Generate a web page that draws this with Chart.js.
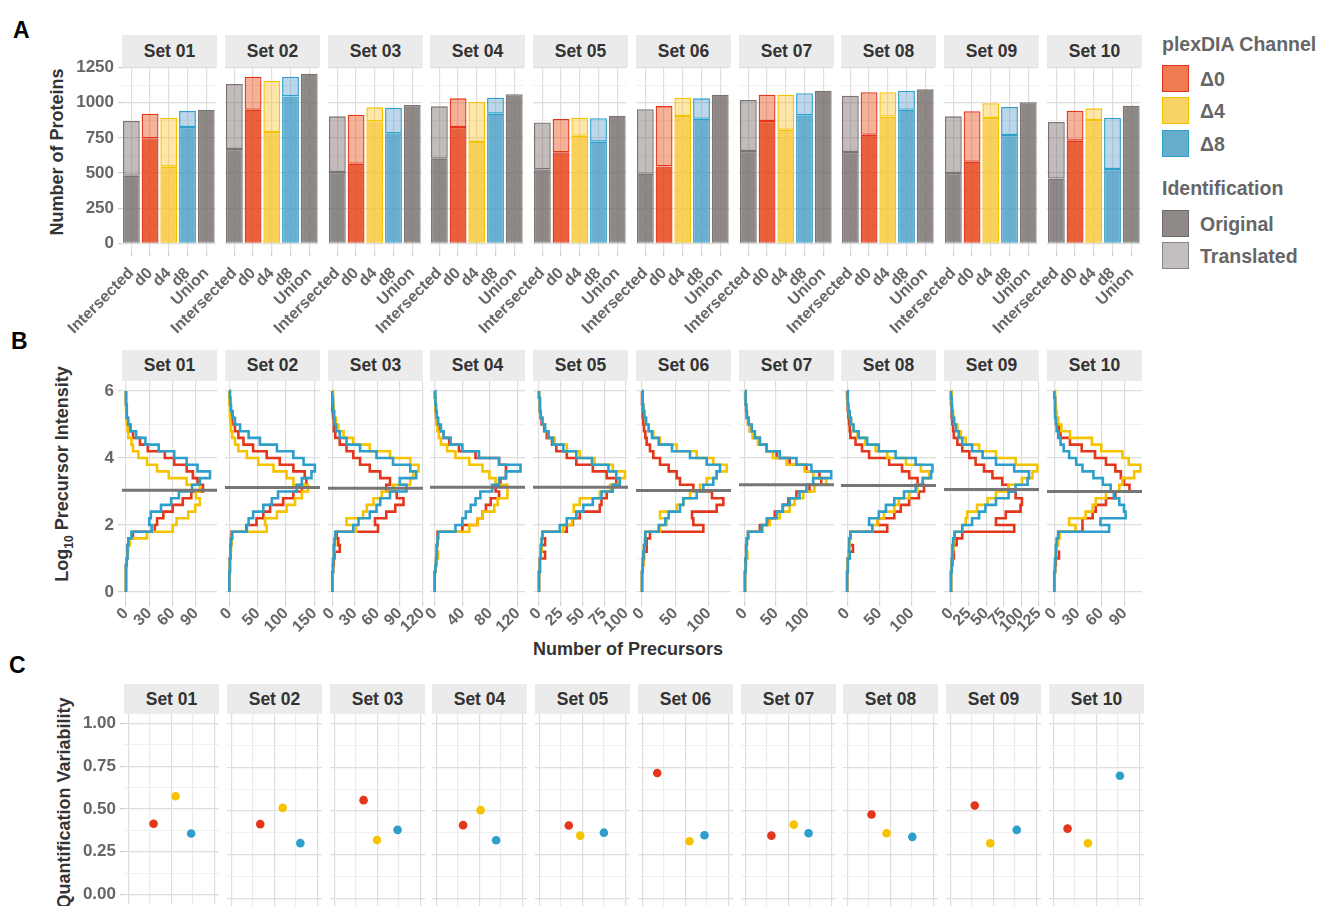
<!DOCTYPE html>
<html>
<head>
<meta charset="utf-8">
<script src="https://cdn.jsdelivr.net/npm/chart.js@4.4.1/dist/chart.umd.min.js"></script>
<style>
  body { margin: 0; background: #fff; }
  #fig { position: relative; width: 1320px; height: 906px; overflow: hidden; font-family: "Liberation Sans", Arial, sans-serif; }
  #fig canvas { position: absolute; }
  .strip { position: absolute; background: #ebebeb; color: #333; font-weight: bold; font-size: 17.5px; text-align: center; }
  .tag { position: absolute; font-weight: bold; font-size: 23px; line-height: 1; color: #000; }
  .title { position: absolute; font-weight: bold; font-size: 18px; color: #333; white-space: nowrap; transform: translate(-50%, -50%); }
  .title.v { transform: translate(-50%, -50%) rotate(-90deg); }
  .lg { position: absolute; left: 1162px; font-weight: bold; color: #666; white-space: nowrap; }
  .lg.head { font-size: 19.5px; height: 24px; line-height: 24px; }
  .lg.key { width: 27px; height: 27px; box-sizing: border-box; border: 1.5px solid; }
  .lg.lab { left: 1200px; font-size: 19.5px; height: 24px; line-height: 24px; }
</style>
</head>
<body>
<div id="fig">
  <div class="tag" style="left:13px;top:19px">A</div>
  <div class="tag" style="left:11px;top:330px">B</div>
  <div class="tag" style="left:9px;top:654px">C</div>

  <div class="title v" style="left:57px;top:152px">Number of Proteins</div>
  <div class="title v" style="left:64px;top:474px">Log<sub style="font-size:12px">10</sub> Precursor Intensity</div>
  <div class="title v" style="left:64px;top:803px">Quantification Variability</div>
  <div class="title" style="left:628px;top:649px">Number of Precursors</div>

  <div class="lg head" style="top:32px">plexDIA Channel</div>
  <div class="lg key" style="top:65px;background:#ee7b52;border-color:#e3341b"></div>
  <div class="lg lab" style="top:67px">Δ0</div>
  <div class="lg key" style="top:97px;background:#f8d264;border-color:#f5c200"></div>
  <div class="lg lab" style="top:99px">Δ4</div>
  <div class="lg key" style="top:130px;background:#66adcd;border-color:#2c9fc9"></div>
  <div class="lg lab" style="top:132px">Δ8</div>
  <div class="lg head" style="top:176px">Identification</div>
  <div class="lg key" style="top:210px;background:#8e8887;border-color:#6f6a69"></div>
  <div class="lg lab" style="top:212px">Original</div>
  <div class="lg key" style="top:242px;background:#c4bfbf;border-color:#8a8585"></div>
  <div class="lg lab" style="top:244px">Translated</div>
</div>
<script>
// ---- data ----
const setNames = ["Set 01", "Set 02", "Set 03", "Set 04", "Set 05", "Set 06", "Set 07", "Set 08", "Set 09", "Set 10"];

// A: protein counts
const barCategories = ["Intersected", "d0", "d4", "d8", "Union"];
const originalProteins = [
    [480, 747, 545, 827, 950],
    [671, 950, 792, 1045, 1206],
    [507, 566, 868, 782, 984],
    [602, 827, 720, 922, 1060],
    [526, 647, 765, 723, 908],
    [495, 547, 905, 886, 1057],
    [656, 870, 808, 910, 1085],
    [649, 772, 901, 950, 1095],
    [500, 580, 891, 770, 1003],
    [460, 730, 877, 528, 979]
];
const translatedProteins = [
    [390, 175, 348, 114, 0],
    [462, 235, 362, 140, 0],
    [396, 349, 99, 183, 0],
    [372, 204, 287, 114, 0],
    [334, 237, 128, 166, 0],
    [458, 429, 131, 145, 0],
    [363, 187, 249, 157, 0],
    [401, 302, 173, 135, 0],
    [403, 359, 105, 199, 0],
    [403, 213, 83, 365, 0]
];

// B: precursor intensity histograms (count per log10 intensity bin)
const intensityBins = [0, 0.2, 0.4, 0.6, 0.8, 1.0, 1.2, 1.4, 1.6, 1.8, 2.0, 2.2, 2.4, 2.6, 2.8, 3.0,
    3.2, 3.4, 3.6, 3.8, 4.0, 4.2, 4.4, 4.6, 4.8, 5.0, 5.2, 5.4, 5.6, 5.8, 6.0];
const d0Precursors = [
    [0,0,0,0,1,2,2,3,9,37,40,48,60,73,84,99,92,86,78,62,50,28,18,9,5,2,1,1,0,0,0],
    [0,0,0,1,1,2,2,3,4,30,48,60,72,95,113,128,136,133,113,89,66,42,25,16,10,5,3,2,1,1,0],
    [0,0,0,1,2,3,10,8,6,61,57,72,84,95,86,72,77,64,50,37,28,19,10,4,2,2,1,0,0,0,0],
    [0,0,0,1,2,3,3,4,4,40,62,69,74,81,93,88,95,103,103,93,59,35,21,13,6,3,2,1,1,0,0],
    [0,0,0,1,1,7,3,7,4,32,39,47,70,72,78,84,89,78,62,43,32,20,15,9,6,3,2,1,1,0,0],
    [0,0,0,1,2,3,7,7,12,92,77,75,112,122,105,77,57,52,40,27,17,12,7,5,3,2,1,1,0,0,0],
    [0,0,0,1,1,2,2,3,5,24,37,48,61,70,83,104,123,120,99,72,51,35,24,13,8,5,3,2,1,1,0],
    [0,0,0,1,1,2,9,4,5,62,47,73,83,96,111,119,109,96,85,65,34,23,13,5,4,3,2,1,1,0,0],
    [0,0,0,1,2,4,3,8,16,90,64,78,99,101,92,82,73,59,47,35,26,16,9,4,3,2,1,1,0,0,0],
    [0,0,0,1,2,6,3,4,5,36,36,49,53,66,78,96,89,85,78,66,52,35,20,8,6,4,2,1,1,0,0]
];
const d4Precursors = [
    [0,0,0,0,1,2,3,5,27,60,65,80,89,95,90,95,78,55,40,27,16,9,7,3,2,1,1,0,0,0,0],
    [0,0,0,1,1,2,3,4,5,66,63,84,101,116,128,139,113,101,78,51,31,16,10,5,3,2,1,1,0,0,0],
    [0,0,0,1,1,2,3,4,4,32,19,41,46,55,66,81,104,108,115,104,77,50,28,15,8,5,3,2,1,1,0],
    [0,0,0,1,2,5,3,4,5,50,62,69,86,91,105,105,88,79,69,50,30,18,9,6,4,3,2,1,1,0,0],
    [0,0,0,1,1,2,3,3,4,28,38,43,40,47,70,82,93,99,85,64,47,32,18,11,7,4,2,1,1,0,0],
    [0,0,0,1,2,2,3,4,5,27,37,27,52,62,72,87,97,112,127,107,82,52,27,17,10,6,4,2,1,1,0],
    [0,0,0,1,2,4,2,3,5,29,40,56,72,80,94,112,131,110,96,67,45,35,21,13,8,5,3,2,1,0,0],
    [0,0,0,1,1,2,3,4,5,39,47,57,73,80,96,109,117,127,114,91,62,44,28,16,9,6,4,2,1,1,0],
    [0,0,0,1,1,2,3,4,5,16,21,23,37,52,64,82,101,116,123,92,64,40,21,14,9,5,3,2,1,1,0],
    [0,0,0,1,1,2,3,5,7,27,19,40,49,53,66,83,87,102,110,95,87,60,48,20,9,5,3,2,1,1,0]
];
const d8Precursors = [
    [0,0,0,0,1,2,2,3,7,33,30,32,45,58,68,85,95,108,92,78,62,42,25,13,6,3,1,1,0,0,0],
    [0,0,0,1,1,2,2,3,5,31,34,42,60,75,86,119,128,145,151,131,113,84,54,34,19,10,6,3,2,1,0],
    [0,0,0,1,1,2,2,3,4,28,35,50,59,64,77,99,90,112,104,81,59,37,19,10,5,3,2,1,1,0,0],
    [0,0,0,1,2,3,3,4,5,30,40,45,52,59,66,83,93,103,124,93,64,40,23,13,9,5,3,2,1,1,0],
    [0,0,0,1,1,2,2,3,4,24,32,43,51,62,72,85,93,89,80,61,43,28,16,11,7,4,2,1,1,0,0],
    [0,0,0,1,1,2,3,5,5,25,35,40,57,62,82,92,107,112,117,97,72,45,25,15,10,6,3,2,1,1,0],
    [0,0,0,1,1,2,2,3,5,27,35,51,61,72,88,99,110,139,107,83,56,35,24,16,11,6,3,2,1,1,0],
    [0,0,0,1,1,4,3,3,5,39,34,49,60,73,88,106,117,130,132,106,75,49,31,18,10,6,4,2,1,1,0],
    [0,0,0,1,1,2,2,3,5,16,30,40,49,64,82,92,109,111,90,64,45,30,16,11,7,4,2,1,1,0,0],
    [0,0,0,1,1,2,2,3,5,70,59,91,89,83,76,72,62,50,36,28,19,12,8,5,3,2,1,1,1,0,0]
];
const precursorStep = [30, 50, 30, 40, 25, 50, 50, 50, 25, 30];
const precursorMin = [-5.1, -7.6, -5.7, -6.8, -6.9, -9, -9.6, -9.5, -10, -9.3];
const precursorMax = [117, 160, 121, 130.5, 102.5, 133.5, 143.5, 137.5, 125.3, 112];
const medianIntensity = [3.04, 3.12, 3.1, 3.13, 3.13, 3.03, 3.2, 3.18, 3.06, 3.0];

// C: quantification variability (x = jittered channel position)
const d0CvX = [2.34, 2.68, 2.71, 2.48, 2.73, 1.38, 2.42, 2.24, 2.26, 1.32];
const d0Cv = [0.413, 0.425, 0.562, 0.419, 0.417, 0.717, 0.359, 0.48, 0.531, 0.399];
const d4CvX = [4.38, 4.76, 3.95, 4.1, 3.79, 4.37, 4.49, 3.64, 3.7, 3.21];
const d4Cv = [0.574, 0.518, 0.334, 0.505, 0.359, 0.327, 0.422, 0.373, 0.315, 0.315];
const d8CvX = [5.82, 6.39, 5.86, 5.54, 5.98, 5.76, 5.86, 6.02, 6.15, 6.17];
const d8Cv = [0.356, 0.316, 0.392, 0.333, 0.376, 0.361, 0.373, 0.352, 0.392, 0.702];

// ---- styles ----
const FONT = '"Liberation Sans", Arial, sans-serif';
const RED = "#e3361b", YELLOW = "#f5c300", BLUE = "#2e9fca";
const BAR_LINE = ["#7a7473", RED, YELLOW, BLUE, "#7a7473"];
const ORIG_FILL = ["rgba(114,106,105,0.8)", "rgba(228,56,9,0.8)", "rgba(248,196,49,0.8)", "rgba(69,155,196,0.8)", "rgba(114,106,105,0.8)"];
const TRANS_FILL = ["rgba(102,87,85,0.4)", "rgba(230,62,0,0.4)", "rgba(252,192,40,0.4)", "rgba(90,155,202,0.4)", "rgba(102,87,85,0.4)"];
const GRID_MAJOR = "#dedede", GRID_MINOR = "#ececec", TICK_TEXT = "#666";

const PITCH = 102.75, PANEL_W = 95;
const PAD_L = 80, PAD_R = 12, PAD_T = 15, Y_W = 60;
const rowA = { left: 122, stripTop: 35, stripH: 32, plotTop: 67, plotH: 185, axisH: 100, labelPad: 8 };
const rowB = { left: 122, stripTop: 350, stripH: 31, plotTop: 381, plotH: 221, axisH: 60, labelPad: -2 };
const rowC = { left: 124, stripTop: 684, stripH: 30, plotTop: 714, plotH: 194, axisH: 10 };

Chart.defaults.font.family = FONT;
const fig = document.getElementById("fig");

function addFacet(row, i, config) {
    const left = Math.round(row.left + i * PITCH);
    const strip = document.createElement("div");
    strip.className = "strip";
    strip.style.cssText = `left:${left}px;top:${row.stripTop}px;width:${PANEL_W}px;height:${row.stripH}px;line-height:${row.stripH}px`;
    strip.textContent = setNames[i];
    fig.appendChild(strip);

    const c = document.createElement("canvas");
    const w = PAD_L + PANEL_W + PAD_R, h = PAD_T + row.plotH + row.axisH;
    c.width = w; c.height = h;
    c.style.cssText = `left:${left - PAD_L}px;top:${row.plotTop - PAD_T}px;width:${w}px;height:${h}px`;
    fig.appendChild(c);

    const first = i === 0;
    config.options = Object.assign(config.options || {}, {
        responsive: false,
        animation: false,
        devicePixelRatio: 1,
        layout: { padding: { left: first ? PAD_L - Y_W : PAD_L, right: PAD_R, top: PAD_T, bottom: 0 } },
        plugins: { legend: { display: false }, tooltip: { enabled: false } }
    });
    return new Chart(c, config);
}

function yAxis(first, min, max, step, isMajor, label) {
    return {
        min: min, max: max,
        border: { display: false },
        grid: {
            color: ctx => isMajor(ctx.tick.value) ? GRID_MAJOR : GRID_MINOR,
            lineWidth: ctx => isMajor(ctx.tick.value) ? 1.2 : 0.8,
            drawTicks: first, tickLength: 4,
            tickColor: ctx => isMajor(ctx.tick.value) ? "#cfcfcf" : "rgba(0,0,0,0)"
        },
        ticks: {
            display: first, stepSize: step, includeBounds: false, autoSkip: false, padding: 4,
            color: TICK_TEXT, font: { size: 17, weight: "bold" },
            callback: v => isMajor(v) ? label(v) : ""
        },
        afterFit: s => { s.width = first ? Y_W : 0; }
    };
}

const near = (a, b) => Math.abs(a - b) < 1e-6;

// ---- row A ----
setNames.forEach((name, i) => {
    addFacet(rowA, i, {
        type: "bar",
        data: {
            labels: barCategories,
            datasets: [
                { label: "Original", data: originalProteins[i], backgroundColor: ORIG_FILL, borderColor: BAR_LINE, borderWidth: 1.3, borderSkipped: false },
                { label: "Translated", data: translatedProteins[i].map(v => v > 0 ? v : null), backgroundColor: TRANS_FILL, borderColor: BAR_LINE, borderWidth: 1.3, borderSkipped: false }
            ]
        },
        options: {
            barPercentage: 0.9,
            categoryPercentage: 1,
            scales: {
                x: {
                    stacked: true,
                    border: { display: false },
                    grid: { offset: false, color: GRID_MAJOR, lineWidth: 1.2, tickLength: 4, tickColor: "#cfcfcf" },
                    ticks: { autoSkip: false, minRotation: 45, maxRotation: 45, padding: rowA.labelPad, color: TICK_TEXT, font: { size: 16, weight: "bold" } },
                    afterFit: s => { s.height = rowA.axisH; }
                },
                y: Object.assign(yAxis(i === 0, -62, 1254, 125, v => near(v % 250, 0), v => String(v)), { stacked: true })
            }
        }
    });
});

// ---- row B ----
function histPoints(counts) {
    return intensityBins.map((y, k) => ({ x: counts[k], y: y }));
}
function histLine(counts, color, order) {
    return { data: histPoints(counts), borderColor: color, borderWidth: 2.6, showLine: true, stepped: "after", pointRadius: 0, fill: false, order: order };
}

setNames.forEach((name, i) => {
    addFacet(rowB, i, {
        type: "scatter",
        data: {
            datasets: [
                { data: [{ x: precursorMin[i], y: medianIntensity[i] }, { x: precursorMax[i], y: medianIntensity[i] }],
                  borderColor: "#767676", borderWidth: 3, showLine: true, pointRadius: 0, order: 0 },
                histLine(d8Precursors[i], BLUE, 1),
                histLine(d4Precursors[i], YELLOW, 2),
                histLine(d0Precursors[i], RED, 3)
            ]
        },
        options: {
            scales: {
                x: {
                    type: "linear", min: precursorMin[i], max: precursorMax[i],
                    border: { display: false },
                    grid: { color: GRID_MAJOR, lineWidth: 1.2, tickLength: 4, tickColor: "#cfcfcf" },
                    ticks: { stepSize: precursorStep[i], includeBounds: false, autoSkip: false, minRotation: 45, maxRotation: 45, padding: rowB.labelPad, color: TICK_TEXT, font: { size: 16, weight: "bold" } },
                    afterFit: s => { s.height = rowB.axisH; }
                },
                y: yAxis(i === 0, -0.3, 6.3, 1, v => near(v % 2, 0), v => String(v))
            }
        }
    });
});

// ---- row C ----
setNames.forEach((name, i) => {
    addFacet(rowC, i, {
        type: "scatter",
        data: {
            datasets: [
                { data: [{ x: d0CvX[i], y: d0Cv[i] }], backgroundColor: RED, pointRadius: 4.3, pointBorderWidth: 0 },
                { data: [{ x: d4CvX[i], y: d4Cv[i] }], backgroundColor: YELLOW, pointRadius: 4.3, pointBorderWidth: 0 },
                { data: [{ x: d8CvX[i], y: d8Cv[i] }], backgroundColor: BLUE, pointRadius: 4.3, pointBorderWidth: 0 }
            ]
        },
        options: {
            scales: {
                x: {
                    type: "linear", min: -0.4, max: 8.4,
                    border: { display: false },
                    grid: { color: ctx => near(ctx.tick.value % 4, 0) ? GRID_MAJOR : GRID_MINOR, lineWidth: 1.2, drawTicks: false },
                    ticks: { display: false, stepSize: 2, includeBounds: false },
                    afterFit: s => { s.height = rowC.axisH; }
                },
                y: yAxis(i === 0, -0.055, 1.055, 0.125, v => near(v * 4, Math.round(v * 4)), v => v.toFixed(2))
            }
        }
    });
});
</script>
</body>
</html>
